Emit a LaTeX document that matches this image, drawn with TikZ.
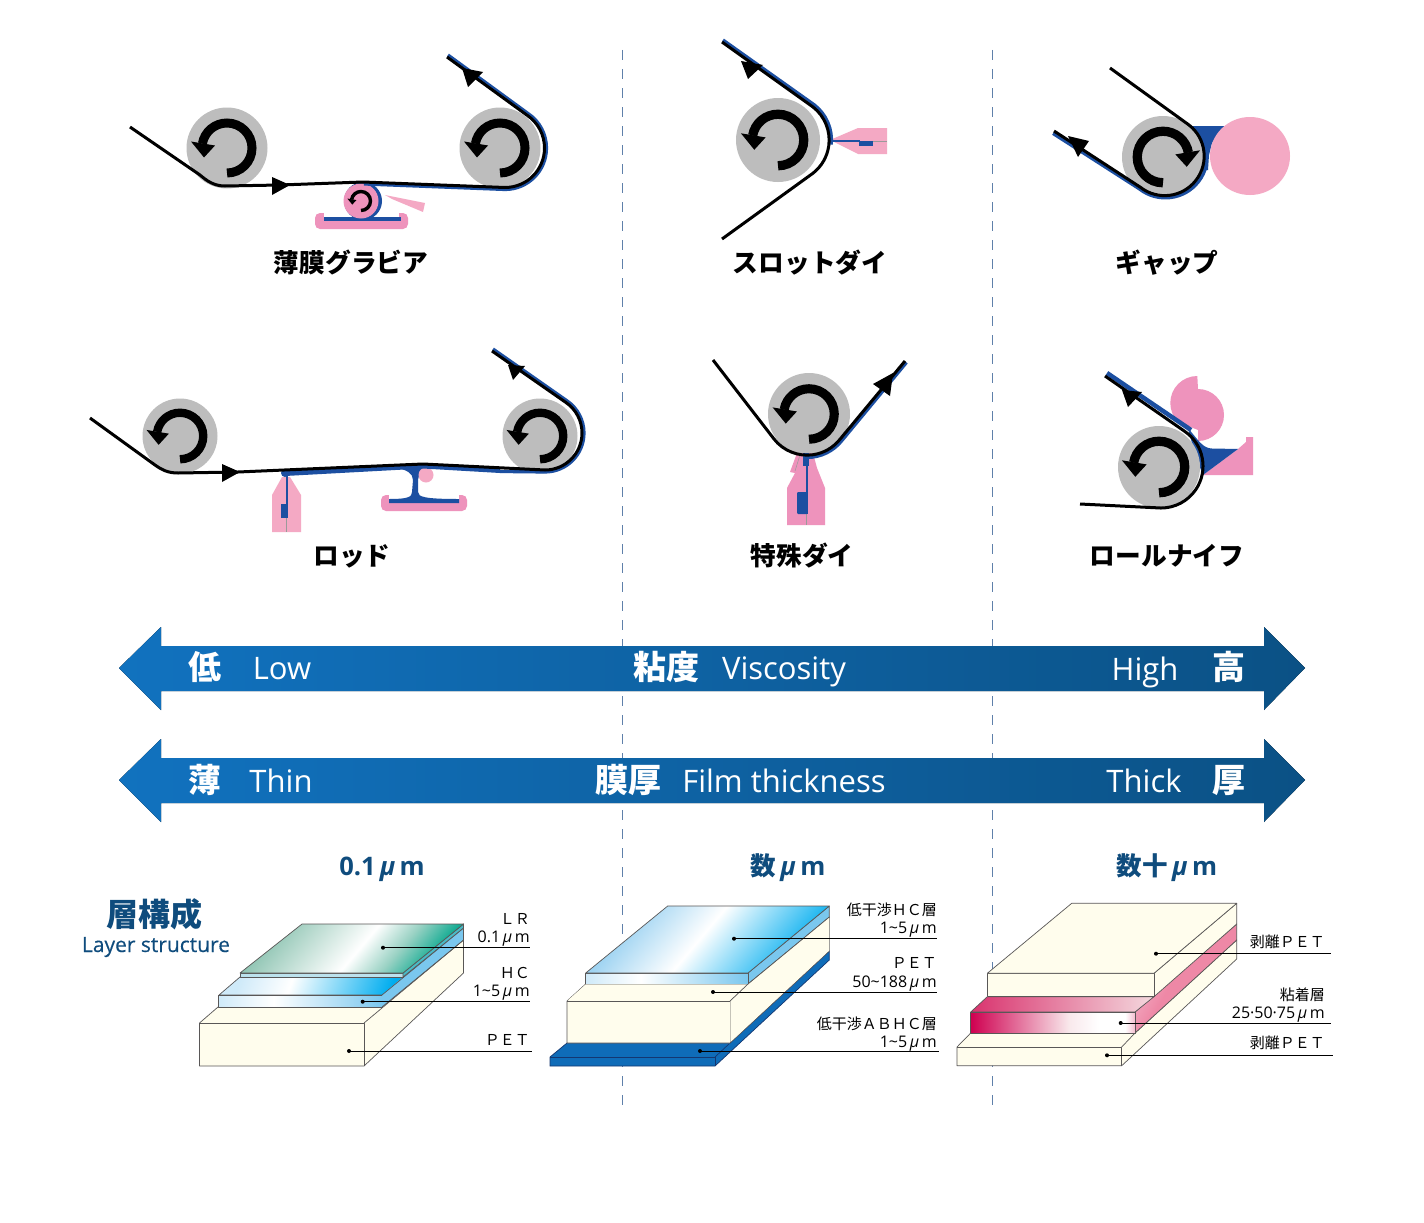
\documentclass[tikz,border=0pt]{standalone}
\usepackage{fontspec}
\setmainfont{Open Sans}
\newfontfamily\jp{Noto Sans CJK JP}
\usetikzlibrary{calc}
\definecolor{web}{HTML}{1C4FA1}
\definecolor{rollgray}{HTML}{BDBDBD}
\definecolor{pinkA}{HTML}{EE93BC}
\definecolor{pinkB}{HTML}{F4A9C4}
\definecolor{headblue}{HTML}{0F4C7D}
\definecolor{dashblue}{HTML}{5F80AA}
\definecolor{cream}{HTML}{FFFDED}
\definecolor{edgegray}{HTML}{595757}
\definecolor{barL}{HTML}{1172BF}
\definecolor{barR}{HTML}{0B5185}
\definecolor{hcside}{HTML}{7AC7EE}
\definecolor{basebl}{HTML}{0F6CB8}
\definecolor{tealA}{HTML}{8CC3B1}
\definecolor{tealB}{HTML}{9AD2C4}
\definecolor{tealC}{HTML}{00A68C}
\definecolor{bluA}{HTML}{8CCBEF}
\definecolor{bluB}{HTML}{00ADEF}
\definecolor{bluC}{HTML}{CFEAF9}
\definecolor{redA}{HTML}{CF0050}
\definecolor{redB}{HTML}{F4D9DE}
\definecolor{redC}{HTML}{EE88A6}
\definecolor{redD}{HTML}{EF6FA8}
\definecolor{redE}{HTML}{F9E9EC}
\definecolor{redF}{HTML}{D9336E}
\definecolor{redG}{HTML}{F4BDD0}
\pgfdeclarehorizontalshading{lrtop}{100bp}{color(0bp)=(tealA);color(25bp)=(tealA);color(52bp)=(white);color(63bp)=(tealB);color(75bp)=(tealC);color(100bp)=(tealC)}
\pgfdeclarehorizontalshading{bluetop}{100bp}{color(0bp)=(bluA);color(25bp)=(bluA);color(48bp)=(white);color(75bp)=(bluB);color(100bp)=(bluB)}
\pgfdeclarehorizontalshading{hctop}{100bp}{color(0bp)=(bluC);color(25bp)=(bluC);color(42bp)=(white);color(75bp)=(bluB);color(100bp)=(bluB)}
\pgfdeclarehorizontalshading{bluefront}{100bp}{color(0bp)=(bluC);color(25bp)=(bluC);color(42bp)=(white);color(75bp)=(hcside);color(100bp)=(hcside)}
\pgfdeclarehorizontalshading{redfront}{100bp}{color(0bp)=(redA);color(25bp)=(redA);color(55bp)=(redE);color(64bp)=(white);color(72bp)=(white);color(75bp)=(redG);color(100bp)=(redG)}
\pgfdeclarehorizontalshading{redtop}{100bp}{color(0bp)=(redF);color(25bp)=(redF);color(75bp)=(redB);color(100bp)=(redB)}
\pgfdeclarehorizontalshading{redside}{100bp}{color(0bp)=(redG);color(25bp)=(redG);color(45bp)=(redC);color(65bp)=(redC);color(75bp)=(redD);color(100bp)=(redD)}
\tikzset{
  blackweb/.style={draw=black,line width=3pt,line join=round},
  blueweb/.style={draw=web,line width=3.2pt,line join=round},
  roll/.style={fill=rollgray},
  layeredge/.style={draw=edgegray,line width=.7pt,line join=round},
  leaderline/.style={draw=black,line width=.9pt},
  procname/.style={font=\jp\bfseries\fontsize{25.7}{25.7}\selectfont,text=black,inner sep=0pt},
  smalltxt/.style={font=\jp\fontsize{15}{15}\selectfont,text=black,inner sep=0pt,anchor=east},
  smallnum/.style={font=\fontsize{16}{16}\selectfont,text=black,inner sep=0pt,anchor=base east},
  headtxt/.style={font=\bfseries\fontsize{25.5}{25.5}\selectfont,text=headblue,inner sep=0pt,anchor=base},
  bartxt/.style={font=\fontsize{31}{31}\selectfont,text=white,inner sep=0pt,anchor=base},
  barjp/.style={font=\jp\bfseries\fontsize{33}{33}\selectfont,text=white,inner sep=0pt},
  sep/.style={draw=dashblue,line width=1.1pt,dash pattern=on 10pt off 9pt},
  bararrow/.style={left color=barL,right color=barR}
}
\newcommand\Rollmark[4]{%
  \begin{scope}[shift={(#1,#2)},xscale=#4,scale=#3]
    \draw[line width={9pt*#3},black] (0,25) arc[start angle=90,end angle=-170,radius=25];
    \fill[black] (-23,9.5) -- (-36,-6.5) -- (-12,-2.5) -- cycle;
  \end{scope}}
\newcommand\Leader[3]{%
  \draw[leaderline] (#1,#2) -- (#3,#2);
  \fill[black] (#1,#2) circle[radius=2];}
\newcommand\Mu{\textit{μ}}
\begin{document}
\begin{tikzpicture}[x=1pt,y=-1pt]
\useasboundingbox (0,0) rectangle (1424,1223);
\fill[white] (0,0) rectangle (1424,1223);
% separators
\draw[sep] (622.5,50) -- (622.5,1105);
\draw[sep] (992.5,50) -- (992.5,1105);
% ---- banners
\fill[bararrow] (119,668) -- (161,627) -- (161,646) -- (1264,646) -- (1264,627) -- (1305,668) -- (1264,710) -- (1264,691) -- (161,691) -- (161,710) -- cycle;
\fill[bararrow] (119,780) -- (161,739) -- (161,758) -- (1264,758) -- (1264,739) -- (1305,780) -- (1264,822) -- (1264,803) -- (161,803) -- (161,822) -- cycle;
\node[barjp] (b1) at (205,667) {低};
\node[bartxt] (b2) at (282,679) {Low};
\node[barjp] (b3) at (666,667) {粘度};
\node[bartxt] (b4) at (784,679) {Viscosity};
\node[bartxt] (b5) at (1145,680) {High};
\node[barjp] (b6) at (1229,667) {高};
\node[barjp] (c1) at (205,780) {薄};
\node[bartxt] (c2) at (281,792) {Thin};
\node[barjp] (c3) at (628,780) {膜厚};
\node[bartxt] (c4) at (784,792) {Film thickness};
\node[bartxt] (c5) at (1144,792) {Thick};
\node[barjp] (c6) at (1229,780) {厚};
% ---- Panel 1: thin gravure
\fill[roll] (227,148) circle[radius=40.5];
\fill[roll] (500,148) circle[radius=40.5];
\Rollmark{227}{148}{1}{1}
\Rollmark{500}{148}{1}{1}
\fill[pinkA,rounded corners=5pt] (315,213) -- (315,229) -- (408,229) -- (408,213) -- cycle;
\fill[white] (324,213) rectangle (399,217);
\fill[web] (324,217) rectangle (401,221);
\fill[pinkB] (385,195) -- (425,203) -- (423,212) -- (392,199) -- cycle;
\fill[web] (363,201) circle[radius=19];
\fill[pinkA] (361,201) circle[radius=17.5];
\Rollmark{361}{201}{.38}{1}
\draw[blueweb] (364,184) -- (505,189.5) arc[start angle=90,end angle=-56,radius=41.5] -- (448,55);
\draw[blackweb] (130,127) -- (200,175) .. controls (207,181) and (214,186) .. (225,186) -- (280,185) -- (363,182) -- (505,187.5) arc[start angle=90,end angle=-56,radius=39.5] -- (447,57);
\fill[black] (272,177) -- (272,195) -- (290,185) -- cycle;
\fill[black] (462,68) -- (468,87) -- (483,72) -- cycle;
\node[procname] (n1) at (351,263) {薄膜グラビア};
% ---- Panel 2: slot die
\fill[roll] (778,140) circle[radius=42];
\Rollmark{778}{140}{1.03}{1}
\fill[pinkB] (830,140) -- (858,128) -- (887,128) -- (887,154) -- (858,154) -- cycle;
\draw[edgegray!60,line width=.5pt] (830,141) -- (887,141);
\draw[web,line width=1.2pt] (828,141) -- (860,141);
\fill[web] (859,141) rectangle (873,146);
\draw[blueweb] (723,40) -- (814.4,104.9) arc[start angle=-52,end angle=6,radius=44.5];
\draw[blackweb] (722,42) -- (813,107) arc[start angle=-52,end angle=52,radius=42] -- (722,239);
\fill[black] (741,61) -- (748,79) -- (763,65) -- cycle;
\node[procname] (n2) at (810,263) {スロットダイ};
% ---- Panel 3: gap
\fill[web] (1190,126) -- (1226,126) -- (1212,143) -- (1209,155) -- (1208,170) -- (1198,170) -- cycle;
\fill[pinkB] (1250,156) ellipse[x radius=40,y radius=39];
\fill[roll] (1163,157) circle[radius=41];
\Rollmark{1163}{157}{1.03}{-1}
\draw[blueweb] (1053,133.5) -- (1139.5,189) arc[start angle=128,end angle=12,radius=42];
\draw[blackweb] (1110,68) -- (1189,125) arc[start angle=-52,end angle=128,radius=39.5] -- (1054,131);
\fill[black] (1068,136) -- (1078,157) -- (1089,141) -- cycle;
\node[procname] (n3) at (1167,263) {ギャップ};
% ---- Panel 4: rod
\fill[roll] (180,436) circle[radius=37.5];
\fill[roll] (540,436) circle[radius=37.5];
\Rollmark{180}{436}{.93}{1}
\Rollmark{540}{436}{.93}{1}
\fill[pinkB] (272,495) -- (282,477) -- (290,477) -- (301,495) -- (301,532) -- (272,532) -- cycle;
\draw[edgegray!60,line width=.5pt] (286.5,518) -- (286.5,532);
\draw[web,line width=2pt] (286.5,473) -- (286.5,518);
\fill[web] (281,504) rectangle (287,518);
\fill[pinkA,rounded corners=5pt] (381,495) -- (381,511) -- (467,511) -- (467,495) -- cycle;
\fill[white] (389,495) rectangle (459,499);
\fill[web] (398,468) .. controls (406,470) and (413,473) .. (413,480) -- (412,492) .. controls (412,497) and (408,499) .. (389,499) -- (389,503) -- (459,503) -- (459,499) .. controls (425,499) and (418,497) .. (418,492) -- (418,480) .. controls (418,473) and (424,470) .. (430,468) -- cycle;
\fill[pinkB] (426,475) circle[radius=7.5];
\fill[web] (283,471) -- (423,464) -- (500,468) -- (500,473) -- (423,468.5) -- (285,476) -- cycle;
\fill[web] (285,473) circle[radius=4];
\draw[blueweb] (500,471.5) -- (545,472) arc[start angle=90,end angle=-56,radius=39] -- (493,349);
\draw[blackweb] (90,418) -- (155,465) .. controls (162,470) and (168,473) .. (178,473) -- (238,472) -- (423,464) -- (545,470) arc[start angle=90,end angle=-56,radius=37] -- (492,351);
\fill[black] (222,464) -- (222,482) -- (240,472) -- cycle;
\fill[black] (508,365) -- (513,380) -- (525,366) -- cycle;
\node[procname] (n4) at (352,556) {ロッド};
% ---- Panel 5: special die
\fill[roll] (809,414) circle[radius=41];
\Rollmark{809}{414}{1.01}{1}
\fill[pinkA] (787,525) -- (825,525) -- (825,488) -- (817,468) -- (813,453) -- (797,453) -- (790,472) -- (795,473) -- (787,488) -- cycle;
\draw[edgegray!60,line width=.5pt] (800,455) -- (795,471);
\draw[edgegray!60,line width=.8pt] (806.7,514) -- (806.7,525);
\fill[web] (803,453) rectangle (809,466);
\fill[web] (806,466) rectangle (808,514);
\fill[web,rounded corners=1pt] (797,492) rectangle (807.5,514);
\draw[blueweb] (807,457.5) arc[start angle=90,end angle=38,radius=44.5] -- (906.5,362.5);
\draw[blackweb] (713,360) -- (774,439) arc[start angle=142,end angle=38,radius=42] -- (905,361);
\fill[black] (893,373) -- (873,384) -- (890,396) -- cycle;
\node[procname] (n5) at (802,556) {特殊ダイ};
% ---- Panel 6: roll knife
\fill[pinkA] (1197.3,376) arc[start angle=-90,end angle=-225,radius=27] -- (1198,430) -- (1198,441) arc[start angle=90,end angle=-90,radius=26] -- cycle;
\fill[pinkA] (1203,475) -- (1253,475) -- (1253,437) -- (1246,437) -- (1246,442) -- (1238,449) -- cycle;
\fill[web] (1188,428) .. controls (1198,440) and (1203,448.5) .. (1212,448.5) -- (1238,449) -- (1203,475) -- (1195,455) -- cycle;
\fill[roll] (1159,467) circle[radius=41];
\Rollmark{1159}{467}{1.03}{1}
\draw[blueweb,line width=4.5pt] (1107,373) -- (1191,430);
\draw[blackweb] (1105,376) -- (1184.5,431.2) arc[start angle=-56,end angle=90,radius=42] -- (1080,504);
\fill[black] (1122,390) -- (1128,407) -- (1142,392) -- cycle;
\node[procname] (n6) at (1167,556) {ロールナイフ};
% ---- headers
\node[headtxt] (h1) at (382,875) {0.1\,\Mu\,m};
\node[headtxt] (h2) at (788,875) {{\jp\bfseries 数}\,\Mu\,m};
\node[headtxt] (h3) at (1167,875) {{\jp\bfseries 数十}\,\Mu\,m};
\node[font=\jp\bfseries\fontsize{32}{32}\selectfont,text=headblue,inner sep=0pt] (h4) at (154,914) {層構成};
\node[font=\fontsize{21}{21}\selectfont\addfontfeature{FakeBold=0.3},text=headblue,inner sep=0pt,anchor=base] (h5) at (156,952) {Layer structure};
% ---- stack 1
\filldraw[layeredge,fill=cream] (199.5,1023) -- (218,1007) -- (463.5,940) -- (463.5,973) -- (364,1066) -- (199.5,1066) -- cycle;
\draw[layeredge] (199.5,1023) -- (364,1023) -- (364,1066);
\draw[layeredge] (364,1023) -- (463.5,940);
\filldraw[layeredge,fill=hcside] (382,995) -- (463.5,924) -- (463.5,940) -- (382,1007) -- cycle;
\draw[layeredge,shading=hctop,shading angle=-20] (219,995) -- (240,977) -- (410,977) -- (382,995) -- cycle;
\draw[layeredge,shading=bluefront] (218,995) rectangle (382,1007);
\fill[hcside] (382,995) -- (403,977) -- (463,928) -- (463,940) -- (382,1007) -- cycle;
\draw[layeredge] (382,995) -- (463.5,928);
\draw[layeredge] (382,1007) -- (463.5,940) -- (463.5,924);
\draw[layeredge,fill=cream!50!hcside] (240,973) rectangle (403,977);
\draw[layeredge,fill=hcside!60!tealC] (403,973) -- (463.5,924) -- (463.5,928) -- (403,977) -- cycle;
\draw[layeredge,shading=lrtop,shading angle=-40] (240,973) -- (302,924) -- (463.5,924) -- (403,973) -- cycle;
\Leader{383}{947.7}{530}
\Leader{362.7}{1001.7}{530}
\Leader{349}{1051}{531.7}
\node[smalltxt] (t1) at (530,918.5) {ＬＲ};
\node[smallnum] (t2) at (530,942) {0.1\,\Mu\,m};
\node[smalltxt] (t3) at (530,972.5) {ＨＣ};
\node[smallnum] (t4) at (530,996) {1\textasciitilde5\,\Mu\,m};
\node[smalltxt] (t5) at (530,1039.5) {ＰＥＴ};
% ---- stack 2
\filldraw[draw=web!70!black,line width=.7pt,fill=basebl] (550,1057) -- (567,1043) -- (730,1043) -- (829.3,951) -- (829.3,960) -- (715,1066) -- (550,1066) -- cycle;
\draw[draw=web!70!black,line width=.7pt] (550,1057) -- (715,1057) -- (715,1066);
\draw[draw=web!70!black,line width=.7pt] (715,1057) -- (730,1043);
\filldraw[layeredge,fill=cream] (567,1001) -- (585.7,984) -- (829.3,917) -- (829.3,951) -- (730,1043) -- (567,1043) -- cycle;
\draw[layeredge] (567,1001) -- (730,1001) -- (730,1043);
\draw[layeredge] (730,1001) -- (829.3,917);
\draw[layeredge,fill=hcside] (748,973) -- (829.3,906) -- (829.3,917) -- (748,984) -- cycle;
\draw[layeredge,shading=bluefront] (585.7,973) rectangle (748,984);
\draw[layeredge,shading=bluetop,shading angle=-40] (585.7,973) -- (667.7,906) -- (829.3,906) -- (748,973) -- cycle;
\draw[layeredge] (585.7,984) -- (748,984);
\fill[cream] (585.7,984.4) -- (748,984.4) -- (730,1000.6) -- (567.5,1000.6) -- cycle;
\fill[cream] (748.4,984) -- (829,917.4) -- (829,950.6) -- (730.4,1042) -- (730.4,1001) -- cycle;
\draw[layeredge] (730,1001) -- (748,984) -- (829.3,917);
\Leader{734}{938.7}{937}
\Leader{713}{992}{937}
\Leader{700}{1051}{939}
\node[smalltxt] (u1) at (937,909.5) {低干渉ＨＣ層};
\node[smallnum] (u2) at (937,933) {1\textasciitilde5\,\Mu\,m};
\node[smalltxt] (u3) at (937,962.5) {ＰＥＴ};
\node[smallnum] (u4) at (937,987) {50\textasciitilde188\,\Mu\,m};
\node[smalltxt] (u5) at (937,1023.5) {低干渉ＡＢＨＣ層};
\node[smallnum] (u6) at (937,1047) {1\textasciitilde5\,\Mu\,m};
% ---- stack 3
\filldraw[layeredge,fill=cream] (957,1047) -- (970.7,1033) -- (1135,1033) -- (1236.7,940) -- (1236.7,959) -- (1121.7,1065.7) -- (957,1065.7) -- cycle;
\draw[layeredge] (957,1047) -- (1121.7,1047) -- (1121.7,1065.7);
\draw[layeredge] (1121.7,1047) -- (1135,1033);
\draw[layeredge,shading=redside,shading angle=-30] (1135,1012) -- (1236.7,924) -- (1236.7,940) -- (1135,1033) -- cycle;
\draw[layeredge,shading=redtop] (970.7,1012) -- (987.3,996.7) -- (1154,996.7) -- (1135,1012) -- cycle;
\draw[layeredge,shading=redfront] (970.7,1012) rectangle (1135,1033);
\filldraw[layeredge,fill=cream] (1154,973.3) -- (1236.7,903.3) -- (1236.7,924) -- (1154,996.7) -- cycle;
\filldraw[layeredge,fill=cream] (987.3,973.3) rectangle (1154,996.7);
\filldraw[layeredge,fill=cream] (987.3,973.3) -- (1071.7,903.3) -- (1236.7,903.3) -- (1154,973.3) -- cycle;
\Leader{1156}{953.7}{1331}
\Leader{1120.7}{1023}{1331}
\Leader{1107}{1055.3}{1332.7}
\node[smalltxt] (v1) at (1325,941.5) {剥離ＰＥＴ};
\node[smalltxt] (v2) at (1325,994.5) {粘着層};
\node[smallnum] (v3) at (1325,1018) {25·50·75\,\Mu\,m};
\node[smalltxt] (v4) at (1325,1042.5) {剥離ＰＥＴ};
\end{tikzpicture}
\end{document}
